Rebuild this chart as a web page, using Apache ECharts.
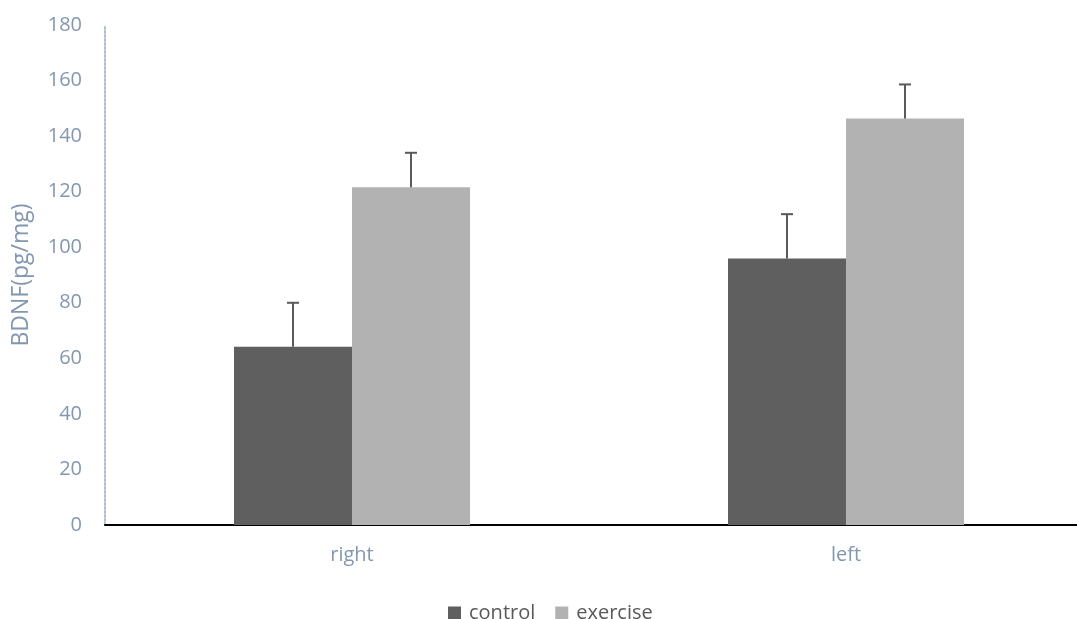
<!DOCTYPE html>
<html><head><meta charset="utf-8">
<script src="https://cdn.jsdelivr.net/npm/echarts@6/dist/echarts.min.js"></script>
<style>html,body{margin:0;padding:0;background:#fff}#c{width:1077px;height:619px}</style>
</head><body><div id="c"></div>
<script>
const categories = ['right', 'left'];
const seriesNames = ['control', 'exercise'];
const controlValues = [64.2, 95.9];
const exerciseValues = [121.6, 146.3];
const controlErrors = [15.8, 16.0];
const exerciseErrors = [12.4, 12.3];
const yTicks = [0, 20, 40, 60, 80, 100, 120, 140, 160, 180];

const BAR_W = 118;
const labelColor = '#8497b0';
const font = '"Open Sans", Lato, sans-serif';

function errSeries(values, errors, offset) {
  return {
    type: 'custom',
    silent: true,
    z: 5,
    data: values.map((v, i) => [i, v, v + errors[i]]),
    renderItem: function (params, api) {
      const lo = api.coord([api.value(0), api.value(1)]);
      const hi = api.coord([api.value(0), api.value(2)]);
      const x = lo[0] + offset;
      const style = { stroke: '#5a5a5a', lineWidth: 2 };
      return {
        type: 'group',
        children: [
          { type: 'line', shape: { x1: x, y1: lo[1], x2: x, y2: hi[1] }, style },
          { type: 'line', shape: { x1: x - 6, y1: hi[1], x2: x + 6, y2: hi[1] }, style }
        ]
      };
    }
  };
}

const chart = echarts.init(document.getElementById('c'), null, { renderer: 'canvas' });
chart.setOption({
  animation: false,
  grid: { left: 105, top: 25, width: 988, bottom: 94, containLabel: false, outerBoundsMode: 'none' },
  legend: {
    data: seriesNames,
    top: 598,
    left: 443,
    itemWidth: 13,
    itemHeight: 13,
    itemGap: 20,
    icon: 'rect',
    textStyle: { color: '#595959', fontSize: 20, fontFamily: font, padding: [0, 0, 0, 3] }
  },
  xAxis: {
    type: 'category',
    data: categories,
    axisLine: { show: true, lineStyle: { color: '#000', width: 2 } },
    axisTick: { show: false },
    axisLabel: { color: labelColor, fontSize: 20, fontFamily: font, margin: 20 }
  },
  yAxis: {
    type: 'value',
    min: yTicks[0],
    max: yTicks[yTicks.length - 1],
    interval: yTicks[1] - yTicks[0],
    name: 'BDNF(pg/mg)',
    nameLocation: 'middle',
    nameGap: 72,
    nameTextStyle: { color: labelColor, fontSize: 23, fontFamily: font },
    axisLine: { show: true, lineStyle: { color: '#a9bcd9', width: 2, type: 'dotted' } },
    axisTick: { show: false },
    splitLine: { show: false },
    axisLabel: { color: labelColor, fontSize: 20, fontFamily: font, margin: 23 }
  },
  series: [
    { name: 'control', type: 'bar', data: controlValues, barWidth: BAR_W, barGap: '0%',
      itemStyle: { color: '#5f5f5f' } },
    { name: 'exercise', type: 'bar', data: exerciseValues, barWidth: BAR_W, barGap: '0%',
      itemStyle: { color: '#b2b2b2' } },
    errSeries(controlValues, controlErrors, -BAR_W / 2),
    errSeries(exerciseValues, exerciseErrors, BAR_W / 2)
  ]
});
</script></body></html>
